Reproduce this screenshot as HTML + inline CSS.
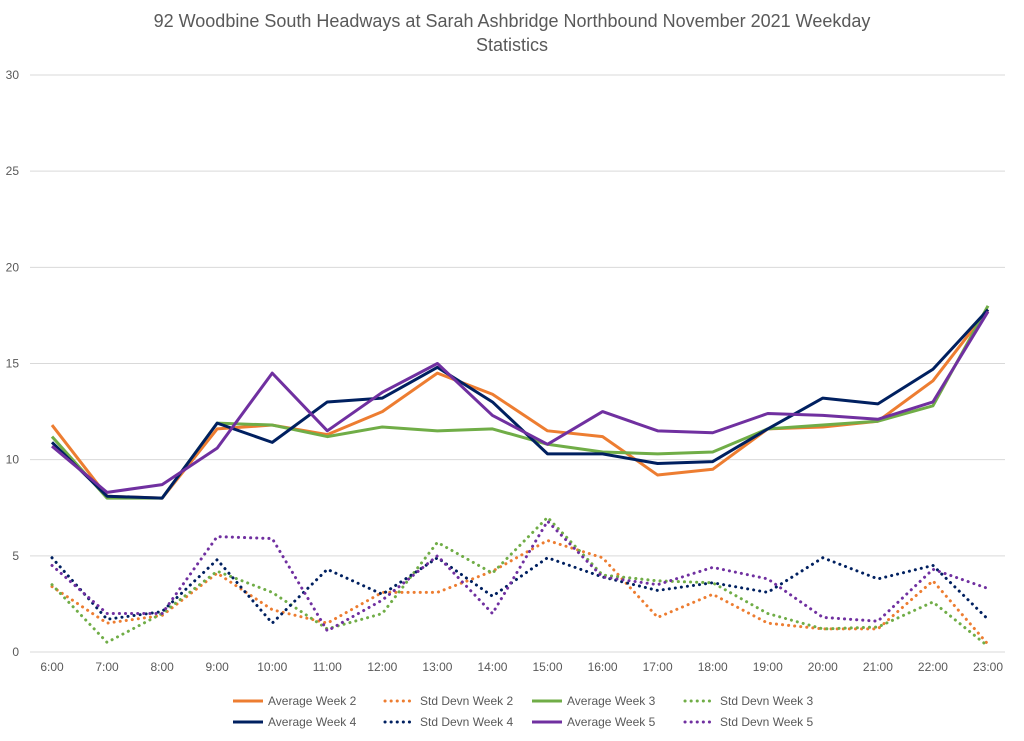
<!DOCTYPE html>
<html><head><meta charset="utf-8"><style>
body{margin:0;background:#fff;font-family:"Liberation Sans",sans-serif;}
svg text{font-family:"Liberation Sans",sans-serif;fill:#595959;}
</style></head><body>
<svg id="c" width="1024" height="736">
<text x="512" y="27" font-size="18" text-anchor="middle">92 Woodbine South Headways at Sarah Ashbridge Northbound November 2021 Weekday</text>
<text x="512" y="51" font-size="18" text-anchor="middle">Statistics</text>
<g id="grid"></g><g id="series"></g><g id="legend"></g>
</svg>
<script>
const categories=["6:00","7:00","8:00","9:00","10:00","11:00","12:00","13:00","14:00","15:00","16:00","17:00","18:00","19:00","20:00","21:00","22:00","23:00"];
const yTicks=[0,5,10,15,20,25,30];
const avgW2=[11.8,8.1,8.0,11.6,11.8,11.3,12.5,14.5,13.4,11.5,11.2,9.2,9.5,11.6,11.7,12.0,14.1,17.8];
const avgW3=[11.2,8.0,8.0,11.9,11.8,11.2,11.7,11.5,11.6,10.8,10.4,10.3,10.4,11.6,11.8,12.0,12.8,18.0];
const avgW4=[10.9,8.1,8.0,11.9,10.9,13.0,13.2,14.8,13.0,10.3,10.3,9.8,9.9,11.6,13.2,12.9,14.7,17.8];
const avgW5=[10.7,8.3,8.7,10.6,14.5,11.5,13.5,15.0,12.3,10.8,12.5,11.5,11.4,12.4,12.3,12.1,13.0,17.7];
const sdW2=[3.4,1.5,1.9,4.1,2.2,1.5,3.1,3.1,4.2,5.8,4.9,1.8,3.0,1.5,1.2,1.2,3.7,0.4];
const sdW3=[3.5,0.5,2.0,4.2,3.1,1.2,2.0,5.7,4.1,7.0,4.0,3.7,3.6,2.0,1.2,1.3,2.6,0.3];
const sdW4=[4.9,1.7,2.1,4.8,1.5,4.3,3.0,4.9,2.9,4.9,3.9,3.2,3.6,3.1,4.9,3.8,4.5,1.7];
const sdW5=[4.5,2.0,2.0,6.0,5.9,1.1,2.7,5.0,2.0,6.8,3.9,3.5,4.4,3.8,1.8,1.6,4.3,3.3];
const NS="http://www.w3.org/2000/svg";
const x0=52,x1=988,y0=652,y30=75;
function xs(i){return x0+i*(x1-x0)/(categories.length-1);}
function ys(v){return y0-v*(y0-y30)/30;}
function el(t,a,p){const e=document.createElementNS(NS,t);for(const k in a)e.setAttribute(k,a[k]);p.appendChild(e);return e;}
const grid=document.getElementById('grid');
yTicks.forEach(v=>{
 const l=el('line',{x1:30,x2:1005,y1:ys(v),y2:ys(v),stroke:'#d9d9d9','stroke-width':1},grid);
 
 
 const t=el('text',{x:19,y:ys(v)+4,'font-size':12,'text-anchor':'end'},grid);t.textContent=v;
 
 
});
categories.forEach((c,i)=>{
 const t=el('text',{x:xs(i),y:671,'font-size':12,'text-anchor':'middle'},grid);t.textContent=c;
 
 
});
const series=[
 {n:'Average Week 2',d:avgW2,c:'#ed7d31',dot:false},
 {n:'Std Devn Week 2',d:sdW2,c:'#ed7d31',dot:true},
 {n:'Average Week 3',d:avgW3,c:'#70ad47',dot:false},
 {n:'Std Devn Week 3',d:sdW3,c:'#70ad47',dot:true},
 {n:'Average Week 4',d:avgW4,c:'#002060',dot:false},
 {n:'Std Devn Week 4',d:sdW4,c:'#002060',dot:true},
 {n:'Average Week 5',d:avgW5,c:'#7030a0',dot:false},
 {n:'Std Devn Week 5',d:sdW5,c:'#7030a0',dot:true}];
const sg=document.getElementById('series'),lg=document.getElementById('legend');
const order=[1,3,5,7,0,2,4,6];
order.forEach(k=>{const s=series[k];
 const p=el('polyline',{points:s.d.map((v,i)=>xs(i)+','+ys(v)).join(' '),fill:'none',stroke:s.c,'stroke-width':3,'stroke-linejoin':'round','stroke-linecap':s.dot?'round':'butt','stroke-dasharray':s.dot?'0.1 6':'none'},sg);
 
 
});
const lx=[233,385,532,685];
series.forEach((s,k)=>{
 const x=lx[k%4],y=k<4?701:722;
 const g=el('g',{},lg);
 
 
 el('line',{x1:x,x2:x+30,y1:y,y2:y,stroke:s.c,'stroke-width':3,'stroke-linecap':s.dot?'round':'butt','stroke-dasharray':s.dot?'0.1 6':'none'},g);
 const t=el('text',{x:x+35,y:y+4,'font-size':12},g);t.textContent=s.n;
});
</script>
</body></html>
